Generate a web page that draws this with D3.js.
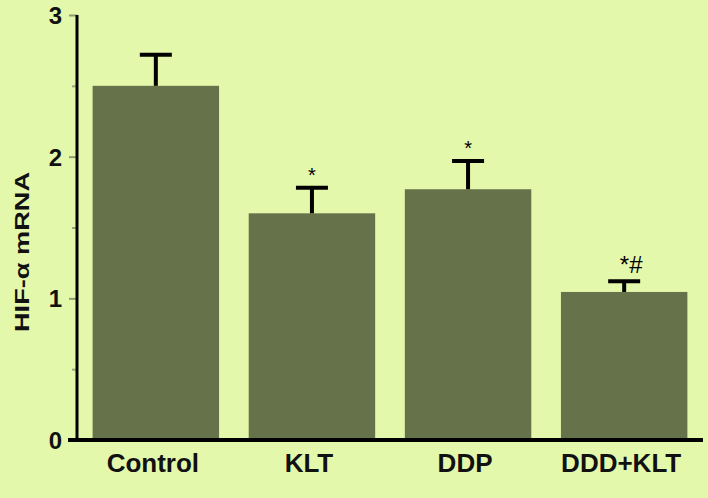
<!DOCTYPE html>
<html>
<head>
<meta charset="utf-8">
<script src="https://cdn.jsdelivr.net/npm/d3@7"></script>
<style>
  html, body { margin: 0; padding: 0; background: #e3f8aa; }
  svg { display: block; }
</style>
</head>
<body>
<svg id="chart" width="708" height="498"></svg>
<script>
const categories = ["Control", "KLT", "DDP", "DDD+KLT"];
const means = [2.50, 1.60, 1.77, 1.045];
const errors = [0.22, 0.18, 0.20, 0.075];
const marks = ["", "*", "*", "*#"];
const yTicks = [0, 1, 2, 3];
const yMinorTicks = [0.5, 1.5, 2.5];

const W = 708, H = 498;
const svg = d3.select("#chart");
svg.append("rect").attr("width", W).attr("height", H).attr("fill", "#e3f8aa");

const x = d3.scaleBand().domain(categories).range([77, 703]).paddingInner(0.19).paddingOuter(0.1);
const y = d3.scaleLinear().domain([0, 3]).range([440, 15]);

const font = "Liberation Sans, Arial, sans-serif";

// bars
svg.append("g").selectAll("rect").data(categories).join("rect")
  .attr("x", d => x(d))
  .attr("y", (d, i) => y(means[i]))
  .attr("width", x.bandwidth())
  .attr("height", (d, i) => y(0) - y(means[i]))
  .attr("fill", "#66724a");

// error bars
const eb = svg.append("g").attr("stroke", "#000").attr("stroke-width", 4);
categories.forEach((c, i) => {
  const cx = x(c) + x.bandwidth() / 2;
  eb.append("line").attr("x1", cx).attr("x2", cx)
    .attr("y1", y(means[i])).attr("y2", y(means[i] + errors[i]));
  eb.append("line").attr("x1", cx - 16).attr("x2", cx + 16)
    .attr("y1", y(means[i] + errors[i])).attr("y2", y(means[i] + errors[i]));
});

// significance marks
svg.append("g").selectAll("text").data(categories).join("text")
  .attr("x", (d, i) => x(d) + x.bandwidth() / 2 + (marks[i].length > 1 ? 7 : 0))
  .attr("y", (d, i) => y(means[i] + errors[i]) - (marks[i].length > 1 ? 8 : 6))
  .attr("text-anchor", "middle")
  .attr("font-family", font)
  .attr("font-size", (d, i) => marks[i].length > 1 ? 24 : 20)
  .attr("fill", "#000")
  .text((d, i) => marks[i]);

// y axis
const yAxis = d3.axisLeft(y).tickValues(yTicks).tickSize(8).tickPadding(7).tickFormat(d3.format("d"));
const gy = svg.append("g").attr("transform", "translate(77,0)").call(yAxis);
gy.select(".domain").remove();
gy.selectAll(".tick line").attr("stroke", "#8e9b72").attr("stroke-width", 2);
gy.selectAll(".tick text").attr("font-family", font).attr("font-size", 24).attr("font-weight", "bold").attr("fill", "#111").attr("dy", "0.36em");

const yMinor = d3.axisLeft(y).tickValues(yMinorTicks).tickSize(5).tickFormat("");
const gym = svg.append("g").attr("transform", "translate(77,0)").call(yMinor);
gym.select(".domain").remove();
gym.selectAll(".tick line").attr("stroke", "#9aa67c").attr("stroke-width", 2);

svg.append("line").attr("x1", 77).attr("x2", 77).attr("y1", y(3)).attr("y2", y(0))
  .attr("stroke", "#000").attr("stroke-width", 3);

// x axis
const xAxis = d3.axisBottom(x).tickSize(0).tickPadding(14);
const gx = svg.append("g").attr("transform", "translate(0,440)").call(xAxis);
gx.select(".domain").remove();
gx.selectAll(".tick text").attr("font-family", font).attr("font-size", 26).attr("font-weight", "bold").attr("fill", "#111")
  .attr("dx", -3).attr("dy", "0.68em");
svg.append("line").attr("x1", 68).attr("x2", 703).attr("y1", y(0)).attr("y2", y(0))
  .attr("stroke", "#000").attr("stroke-width", 4);

// y label
svg.append("text")
  .attr("transform", "translate(29,252) rotate(-90)")
  .attr("text-anchor", "middle")
  .attr("font-family", font).attr("font-size", 21).attr("font-weight", "bold").attr("fill", "#111")
  .attr("textLength", 160).attr("lengthAdjust", "spacingAndGlyphs")
  .text("HIF-α mRNA");
</script>
</body>
</html>
